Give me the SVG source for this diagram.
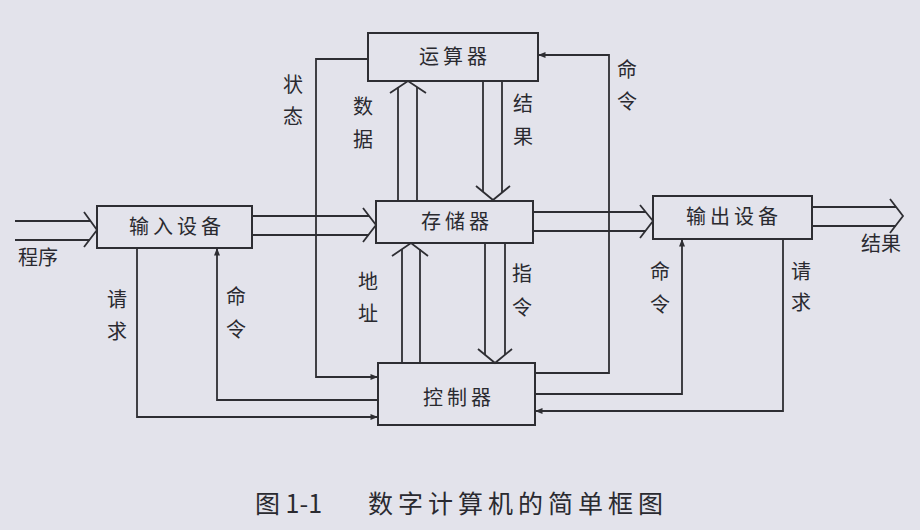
<svg xmlns="http://www.w3.org/2000/svg" width="920" height="530" viewBox="0 0 920 530">
<defs>
<style>
.box{fill:none;stroke:#2e2e33;stroke-width:2}
.ln{fill:none;stroke:#2e2e33;stroke-width:1.8}
.chev{fill:none;stroke:#2e2e33;stroke-width:1.8;stroke-linejoin:miter}
.t{font-family:"Noto Sans CJK SC","Noto Sans",sans-serif;font-size:20px;fill:#2a2a30;text-anchor:middle}
.lbl{font-family:"Noto Sans CJK SC","Noto Sans",sans-serif;font-size:20px;fill:#2a2a30;text-anchor:middle}
.cap{font-family:"Noto Sans CJK SC","Noto Sans",sans-serif;font-size:25px;fill:#2a2a30}
</style>
<marker id="ah" viewBox="0 0 10 8" refX="10" refY="4" markerWidth="8" markerHeight="6" orient="auto" markerUnits="userSpaceOnUse">
<path d="M0,0 L10,4 L0,8 Z" fill="#2e2e33"/>
</marker>
</defs>
<rect x="0" y="0" width="920" height="530" fill="#e3e3eb"/>

<g id="alu"><rect class="box" x="368" y="33" width="170" height="48"/><text class="t" x="455" y="64" letter-spacing="4">运算器</text></g>
<g id="memory"><rect class="box" x="376" y="201" width="157" height="42"/><text class="t" x="457" y="229" letter-spacing="4">存储器</text></g>
<g id="input"><rect class="box" x="97" y="206" width="155" height="42"/><text class="t" x="177" y="234" letter-spacing="4">输入设备</text></g>
<g id="output"><rect class="box" x="653" y="196" width="159" height="43"/><text class="t" x="734" y="224" letter-spacing="4">输出设备</text></g>
<g id="control"><rect class="box" x="378" y="363" width="157" height="62"/><text class="t" x="459" y="405" letter-spacing="4">控制器</text></g>

<g id="connectors">
<path class="ln" d="M15,221 H90 M15,240 H90"/>
<path class="chev" d="M84,212 L97,230 L84,247"/>
<path class="ln" d="M252,216 H369 M252,235 H369"/>
<path class="chev" d="M363,208 L376,225 L363,242"/>
<path class="ln" d="M533,212 H646 M533,231 H646"/>
<path class="chev" d="M640,205 L653,221 L640,238"/>
<path class="ln" d="M812,207 H896 M812,226 H896"/>
<path class="chev" d="M890,199 L903,216 L890,233"/>
<path class="ln" d="M398,201 V87 M417,201 V87"/>
<path class="chev" d="M390,93 L408,81 L426,93"/>
<path class="ln" d="M483,81 V192 M502,81 V192"/>
<path class="chev" d="M476,186 L493,200 L510,186"/>
<path class="ln" d="M402,363 V249 M420,363 V249"/>
<path class="chev" d="M392,256 L411,243 L428,256"/>
<path class="ln" d="M485,243 V355 M505,243 V355"/>
<path class="chev" d="M478,349 L495,363 L512,349"/>
<path class="ln" d="M368,59 H316 V377 H378" marker-end="url(#ah)"/>
<path class="ln" d="M535,373 H609 V55 H538" marker-end="url(#ah)"/>
<path class="ln" d="M378,400 H217 V248" marker-end="url(#ah)"/>
<path class="ln" d="M137,248 V417 H378" marker-end="url(#ah)"/>
<path class="ln" d="M535,394 H682 V239" marker-end="url(#ah)"/>
<path class="ln" d="M783,239 V411 H535" marker-end="url(#ah)"/>
</g>

<g id="labels">
<text class="lbl" x="293" y="92">状</text><text class="lbl" x="293" y="124">态</text>
<text class="lbl" x="363" y="114">数</text><text class="lbl" x="363" y="147">据</text>
<text class="lbl" x="523" y="111">结</text><text class="lbl" x="523" y="144">果</text>
<text class="lbl" x="627" y="77">命</text><text class="lbl" x="627" y="109">令</text>
<text class="lbl" x="38" y="265">程序</text>
<text class="lbl" x="881" y="251">结果</text>
<text class="lbl" x="368" y="289">地</text><text class="lbl" x="368" y="321">址</text>
<text class="lbl" x="522" y="281">指</text><text class="lbl" x="522" y="315">令</text>
<text class="lbl" x="117" y="307">请</text><text class="lbl" x="117" y="339">求</text>
<text class="lbl" x="236" y="304">命</text><text class="lbl" x="236" y="337">令</text>
<text class="lbl" x="660" y="279">命</text><text class="lbl" x="660" y="312">令</text>
<text class="lbl" x="801" y="279">请</text><text class="lbl" x="801" y="310">求</text>
</g>

<g id="caption">
<text class="cap" x="255" y="513">图 1-1</text>
<text class="cap" x="368" y="513" letter-spacing="5">数字计算机的简单框图</text>
</g>
</svg>
